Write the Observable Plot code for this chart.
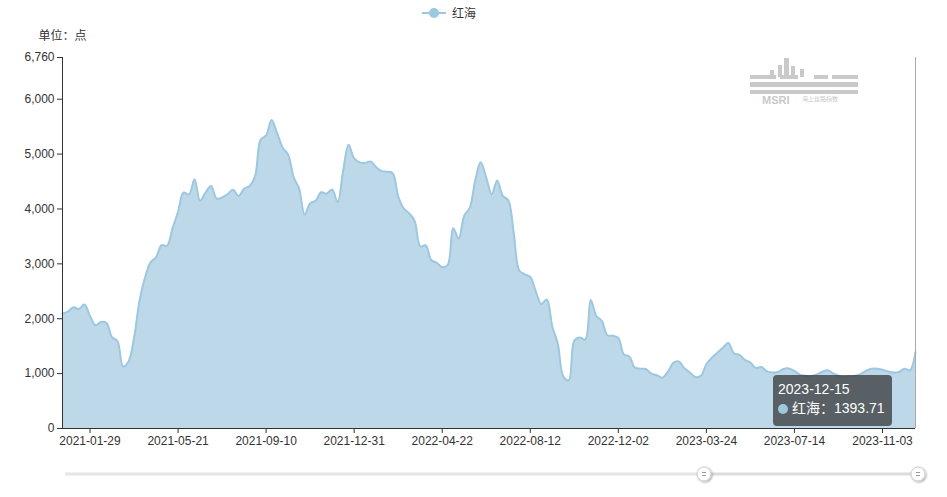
<!DOCTYPE html>
<html>
<head>
<meta charset="utf-8">
<script src="https://cdn.jsdelivr.net/npm/d3@7"></script>
<script src="https://cdn.jsdelivr.net/npm/@observablehq/plot@0.6"></script>
<style>
  html, body { margin: 0; padding: 0; background: #fff; }
  #wrap { position: relative; width: 947px; height: 497px; overflow: hidden;
    font-family: "Liberation Sans", "Noto Sans CJK SC", sans-serif; color: #333; }
  #legend { height: 26px; position: relative; font-size: 12px; }
  #legend .item { position: absolute; left: 422px; top: 4px; display: flex; align-items: center; }
  #legend .sym { position: relative; width: 24px; height: 10px; margin-right: 6px; }
  #legend .sym .ln { position: absolute; left: 0; top: 4px; width: 24px; height: 2px; background: #9ec7e0; }
  #legend .sym .dot { position: absolute; left: 7px; top: 0; width: 10px; height: 10px; border-radius: 50%; background: #9ec7e0; }
  #tip { position: absolute; left: 773px; top: 375px; width: 119px; height: 51px; box-sizing: border-box;
    background: rgba(50,50,50,0.72); border-radius: 4px; color: #fff; padding: 5px 0 0 5px; font-size: 14px; line-height: 19px;
    font-family: "Liberation Sans", "Noto Sans CJK SC", sans-serif; }
  #tip .dot { display: inline-block; width: 10px; height: 10px; border-radius: 50%; background: #9ec7e0; margin-right: 4px; vertical-align: -1px; }
  #slider { position: absolute; left: 0; top: 0; }
</style>
</head>
<body>
<div id="wrap">
  <div id="legend"><div class="item"><div class="sym"><div class="ln"></div><div class="dot"></div></div><span>红海</span></div></div>
  <div id="chart"></div>
</div>
<script>
// ---- data ----
const seriesName = "红海";
const unitLabel = "单位：点";
const startDate = "2020-12-25";
const values = [
  2090, 2130, 2210, 2180, 2260, 2050, 1880, 1940, 1920, 1665, 1590, 1130, 1220, 1650, 2330, 2750, 3030, 3120, 3340, 3330, 3650, 3950, 4300, 4265, 4540, 4150,
  4300, 4420, 4190, 4210, 4270, 4350, 4235, 4370, 4420, 4600, 5260, 5340, 5620, 5380, 5120, 4990, 4580, 4370, 3900, 4100, 4150, 4305, 4280, 4355, 4125,
  4700, 5170, 4920, 4850, 4840, 4865, 4760, 4690, 4680, 4650, 4230, 4010, 3920, 3780, 3320, 3335, 3070, 3020, 2940, 2980, 3650, 3460, 3880, 4020, 4520, 4850, 4570,
  4270, 4520, 4240, 4160, 3560, 2880, 2810, 2760, 2500, 2270, 2350, 1860, 1550, 950, 880, 1600, 1660, 1620, 2340, 2050, 1960, 1700, 1690, 1650, 1350, 1310,
  1110, 1090, 1085, 1000, 970, 925, 1030, 1195, 1220, 1100, 1020, 940, 960, 1170, 1290, 1380, 1470, 1560, 1370, 1340, 1250, 1200, 1105, 1120, 1040, 1020,
  1030, 1085, 1095, 1050, 980, 960, 950, 980, 1030, 1060, 1010, 960, 940, 950, 960, 990, 1050, 1090, 1090, 1070, 1040, 1020, 1030, 1090, 1060, 1393.71
];
const xTickLabels = ["2021-01-29","2021-05-21","2021-09-10","2021-12-31","2022-04-22","2022-08-12","2022-12-02","2023-03-24","2023-07-14","2023-11-03"];
const yTicks = [0, 1000, 2000, 3000, 4000, 5000, 6000, 6760];
const yMax = 6760;

// ---- build ----
const parse = d3.utcParse("%Y-%m-%d");
const fmt = d3.utcFormat("%Y-%m-%d");
const start = parse(startDate);
const data = values.map((v, i) => ({date: d3.utcDay.offset(start, 7 * i), value: v}));
const xTicks = xTickLabels.map(parse);
const first = data[0].date, last = data[data.length - 1].date;
const font = '"Liberation Sans", "Noto Sans CJK SC", sans-serif';

const chart = Plot.plot({
  width: 947,
  height: 471,
  marginTop: 31,
  marginBottom: 69,
  marginLeft: 62,
  marginRight: 32,
  x: {type: "utc", domain: [first, last]},
  y: {domain: [0, yMax]},
  style: {fontFamily: font, fontSize: "12px", color: "#333", background: "transparent", overflow: "visible"},
  marks: [
    Plot.areaY(data, {x: "date", y: "value", fill: "#bcd8e9", curve: "catmull-rom"}),
    Plot.lineY(data, {x: "date", y: "value", stroke: "#9ec7e0", strokeWidth: 2, curve: "catmull-rom"}),
    Plot.ruleX([last], {stroke: "#aaa", strokeWidth: 1}),
    Plot.ruleX([first], {stroke: "#333", strokeWidth: 1}),
    Plot.ruleY([0], {stroke: "#333", strokeWidth: 1}),
    Plot.axisY({ticks: yTicks, tickFormat: d3.format(","), tickSize: 5, tickPadding: 3, label: null, stroke: "#333", fill: "#333"}),
    Plot.axisX({ticks: xTicks, tickFormat: fmt, tickSize: 5, tickPadding: 3, label: null, stroke: "#333", fill: "#333"}),
    Plot.text([unitLabel], {frameAnchor: "top-left", dx: -24, dy: -26, fill: "#333", fontSize: 12, textAnchor: "start"})
  ]
});
document.getElementById("chart").appendChild(chart);

// tooltip overlay (last point)
const wrap = document.getElementById("wrap");
const tip = document.createElement("div");
tip.id = "tip";
tip.innerHTML = `<div>${fmt(last)}</div><div><span class="dot"></span>${seriesName}：${values[values.length - 1]}</div>`;
wrap.appendChild(tip);

// watermark + dataZoom slider overlay
const ov = d3.select(wrap).append("svg").attr("id", "slider")
  .attr("width", 947).attr("height", 497).style("pointer-events", "none");
const wm = ov.append("g").attr("transform", "translate(750,57)").attr("fill", "#c9c9c9");
[[0,18,26,4],[30,18,18,4],[64,18,14,4],[82,18,26,4],
 [0,25,108,5],[0,33,108,4]].forEach(r => wm.append("rect").attr("x", r[0]).attr("y", r[1]).attr("width", r[2]).attr("height", r[3]));
[[28,8,4,12],[34,1,5,19],[41,9,4,11],[50,12,4,8],[20,13,4,7]].forEach(r => wm.append("rect").attr("x", r[0]).attr("y", r[1]).attr("width", r[2]).attr("height", r[3]));
wm.append("text").attr("x", 12).attr("y", 47).attr("font-size", 11).attr("font-weight", "bold").attr("font-family", font).text("MSRI");
wm.append("text").attr("x", 52).attr("y", 44).attr("font-size", 6).attr("font-family", font).text("海上丝路指数");
ov.append("line").attr("x1", 65).attr("x2", 703).attr("y1", 474).attr("y2", 474).attr("stroke", "#e6e6e6").attr("stroke-width", 3);
ov.append("line").attr("x1", 703).attr("x2", 918).attr("y1", 474).attr("y2", 474).attr("stroke", "#dcdcdc").attr("stroke-width", 3);
const defs = ov.append("defs");
const f = defs.append("filter").attr("id", "sh").attr("x", "-50%").attr("y", "-50%").attr("width", "200%").attr("height", "200%");
f.append("feDropShadow").attr("dx", 1).attr("dy", 1).attr("stdDeviation", 1.2).attr("flood-color", "#000").attr("flood-opacity", 0.35);
[704, 918].forEach(cx => {
  ov.append("circle").attr("cx", cx).attr("cy", 474).attr("r", 7).attr("fill", "#fff").attr("stroke", "#ccc").attr("filter", "url(#sh)");
  ov.append("line").attr("x1", cx - 2).attr("x2", cx + 2).attr("y1", 472.5).attr("y2", 472.5).attr("stroke", "#999");
  ov.append("line").attr("x1", cx - 2).attr("x2", cx + 2).attr("y1", 475.5).attr("y2", 475.5).attr("stroke", "#999");
});
</script>
</body>
</html>
